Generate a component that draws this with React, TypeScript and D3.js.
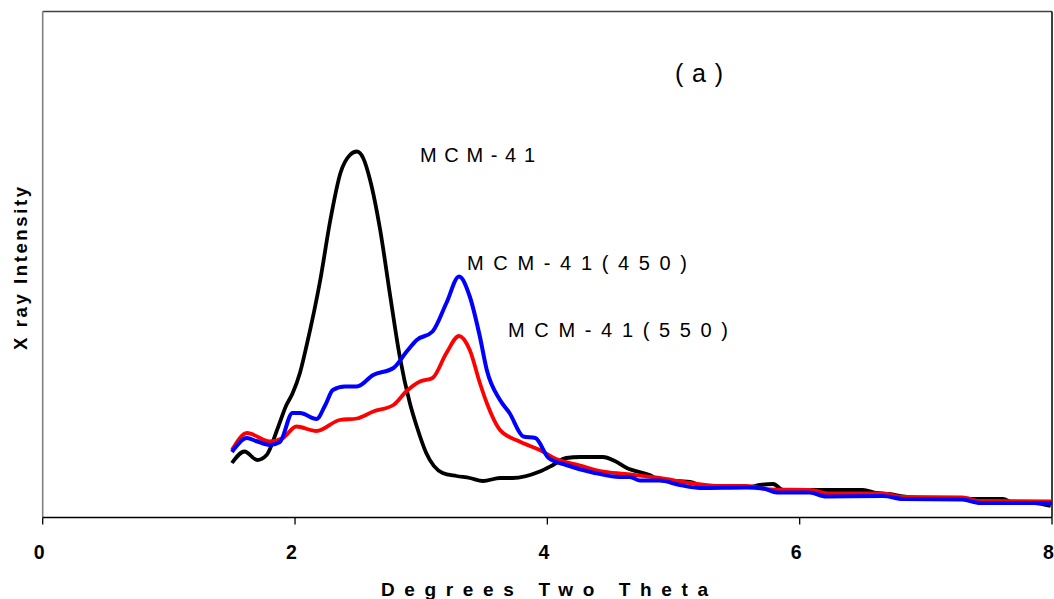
import React from "react";
import * as d3 from "d3";

// Degrees two theta vs. X-ray intensity (arbitrary units)
const mcm41: [number, number][] = [
  [1.5, 54.5], [1.6, 66], [1.7, 57.5], [1.775, 62.5], [1.865, 90], [1.93, 112],
  [1.98, 124], [2.04, 145], [2.09, 171], [2.2, 237.5], [2.28, 297.5], [2.36, 344.5],
  [2.435, 362.5], [2.49, 366], [2.54, 359.5], [2.595, 337.5], [2.675, 287.5], [2.755, 221],
  [2.83, 161], [2.91, 114.5], [2.965, 91], [3.04, 64.5], [3.17, 44.5], [3.28, 41.5],
  [3.385, 39.5], [3.49, 36.5], [3.625, 39.5], [3.725, 39.5], [3.94, 46], [4.045, 52.5],
  [4.15, 59.5], [4.26, 60.5], [4.44, 60.5], [4.535, 56.5], [4.63, 49.5], [4.81, 42.5],
  [4.89, 37.5], [5.13, 35.5], [5.26, 30.5], [5.605, 30.5], [5.685, 32.5], [5.79, 33.5],
  [5.87, 27.5], [6.5, 27.5], [6.61, 24.5], [6.71, 23.5], [6.82, 21], [7.03, 18.5],
  [7.61, 18.5], [7.69, 15], [7.86, 14.5], [7.99, 11.5],
];

const mcm41_450: [number, number][] = [
  [1.5, 65.5], [1.62, 79.5], [1.69, 76.5], [1.8, 72.5], [1.88, 75.5], [1.98, 104.5],
  [2.04, 104.5], [2.17, 98.5], [2.24, 112.5], [2.3, 127.5], [2.395, 131], [2.49, 131],
  [2.62, 142.5], [2.78, 149.5], [2.885, 166], [2.965, 177.5], [3.09, 186], [3.2, 214.5],
  [3.3, 241], [3.385, 221], [3.465, 181], [3.52, 147.5], [3.625, 117.5], [3.7, 104.5],
  [3.81, 81], [3.905, 79.5], [4.01, 59.5], [4.15, 52.5], [4.36, 45], [4.575, 40.5],
  [4.655, 40.5], [4.735, 37], [4.89, 37], [5.05, 32.5], [5.21, 29.5], [5.58, 30],
  [5.71, 29], [5.82, 25], [6.08, 25], [6.21, 21], [6.66, 21.5], [6.82, 18.5],
  [7.29, 18], [7.43, 14.5], [8.0, 14.5],
];

const mcm41_550: [number, number][] = [
  [1.5, 67.5], [1.62, 84.5], [1.8, 76], [1.905, 79.5], [2.01, 91], [2.17, 86.5],
  [2.355, 97.5], [2.49, 99], [2.62, 106], [2.78, 112.5], [2.885, 126.5], [2.99, 136],
  [3.09, 139.5], [3.2, 164.5], [3.3, 181.5], [3.385, 167.5], [3.465, 134.5], [3.52, 114.5],
  [3.625, 87.5], [3.78, 76], [3.94, 67.5], [4.07, 58.5], [4.26, 52], [4.42, 46.5],
  [4.615, 43.5], [4.89, 39.5], [5.13, 34.5], [5.37, 31.5], [5.58, 31.5], [5.765, 28],
  [6.08, 27.5], [6.24, 24], [6.66, 24], [6.82, 20.5], [7.29, 20], [7.43, 16.5], [8.0, 16],
];

const xTicks = [0, 2, 4, 6, 8];
const xTitle = "Degrees Two Theta";
const yTitle = "X ray Intensity";
const panelLabel = "( a )";
const seriesLabels = ["M C M - 4 1", "M C M - 4 1 ( 4 5 0 )", "M C M - 4 1 ( 5 5 0 )"];

export default function App() {
  const x = d3.scaleLinear().domain([0, 8]).range([42.7, 1052]);
  const y = d3.scaleLinear().domain([0, 506]).range([517.5, 11.5]);
  const line = d3
    .line<[number, number]>()
    .x((d) => x(d[0]))
    .y((d) => y(d[1]))
    .curve(d3.curveMonotoneX);

  const font = "'Liberation Sans', Arial, sans-serif";
  const [x0, x1] = x.range();
  const [yb, yt] = y.range();

  return (
    <svg
      width={1054}
      height={599}
      style={{ position: "absolute", left: 0, top: 0, background: "#fff" }}
      fontFamily={font}
    >
      {/* frame */}
      <line x1={x0} y1={yt} x2={x1} y2={yt} stroke="#404040" strokeWidth={1.3} />
      <line x1={x1} y1={yt} x2={x1} y2={yb} stroke="#000" strokeWidth={1.5} />
      <line x1={x0} y1={yt} x2={x0} y2={yb} stroke="#808080" strokeWidth={1.6} />
      <line x1={x0} y1={yb} x2={x1} y2={yb} stroke="#000" strokeWidth={1.6} />
      {xTicks.map((t) => (
        <g key={t}>
          <line x1={x(t)} y1={yb} x2={x(t)} y2={yb + 7} stroke="#000" strokeWidth={1.3} />
          <text x={x(t) - 3.5} y={559} textAnchor="middle" fontSize={19.5} fontWeight="bold">
            {t}
          </text>
        </g>
      ))}
      <text x={381} y={596} fontSize={19} fontWeight="bold" textLength={327} lengthAdjust="spacing">
        {xTitle}
      </text>
      <text
        transform="translate(27,350) rotate(-90)"
        x={0}
        y={0}
        fontSize={18.5}
        fontWeight="bold"
        textLength={163}
        lengthAdjust="spacing"
      >
        {yTitle}
      </text>

      {/* series */}
      <path d={line(mcm41) || ""} fill="none" stroke="#000" strokeWidth={3.8} strokeLinejoin="round" />
      <path d={line(mcm41_550) || ""} fill="none" stroke="#ff0000" strokeWidth={3.8} strokeLinejoin="round" />
      <path d={line(mcm41_450) || ""} fill="none" stroke="#0000ff" strokeWidth={4} strokeLinejoin="round" />

      {/* annotations */}
      <text x={420} y={161.5} fontSize={20} textLength={115} lengthAdjust="spacing" fill="#000">
        {seriesLabels[0]}
      </text>
      <text x={467} y={270} fontSize={20} textLength={220} lengthAdjust="spacing" fill="#000">
        {seriesLabels[1]}
      </text>
      <text x={508} y={336.5} fontSize={20} textLength={220} lengthAdjust="spacing" fill="#000">
        {seriesLabels[2]}
      </text>
      <text x={675} y={82} fontSize={25} textLength={48} lengthAdjust="spacing" fill="#000">
        {panelLabel}
      </text>
    </svg>
  );
}
